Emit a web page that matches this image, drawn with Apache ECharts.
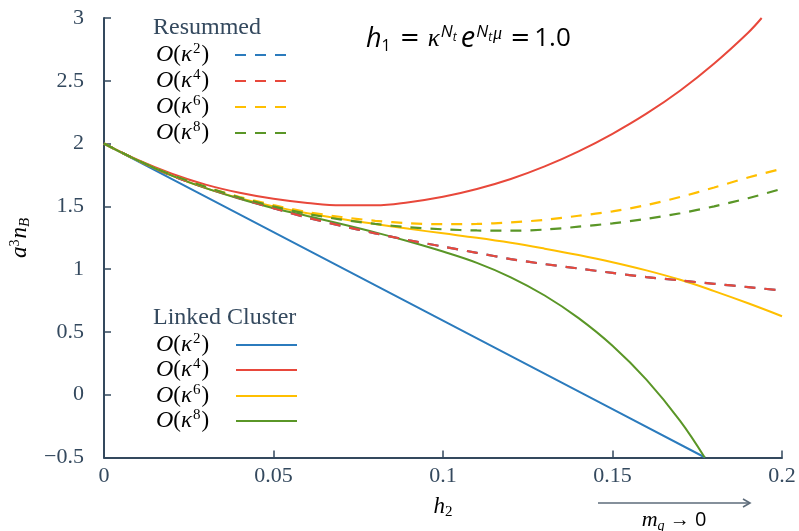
<!DOCTYPE html>
<html><head><meta charset="utf-8">
<script src="https://cdn.jsdelivr.net/npm/echarts@6/dist/echarts.min.js"></script>
<style>html,body{margin:0;padding:0;background:#fff}#c{width:799px;height:531px}</style>
</head><body><div id="c"></div>
<script>
// ---- data ----
const xTickLabels = ['0', '0.05', '0.1', '0.15', '0.2'];
const yTickLabels = ['\u22120.5', '0', '0.5', '1', '1.5', '2', '2.5', '3'];

const h2Grid = [0, 0.01, 0.02, 0.03, 0.04, 0.05, 0.06, 0.07, 0.08, 0.09, 0.10,
                0.11, 0.12, 0.13, 0.14, 0.15, 0.16, 0.17, 0.18, 0.19, 0.20];

// Resummed
const resK2 = [2.0, 1.865, 1.745, 1.65, 1.565, 1.485, 1.41, 1.345, 1.285, 1.23, 1.18,
               1.13, 1.08, 1.04, 1.005, 0.97, 0.937, 0.91, 0.883, 0.857, 0.83];
const resK4 = [2.0, 1.865, 1.745, 1.65, 1.565, 1.485, 1.41, 1.345, 1.285, 1.23, 1.18,
               1.13, 1.08, 1.04, 1.005, 0.97, 0.937, 0.91, 0.883, 0.857, 0.83];
const resK6 = [2.0, 1.865, 1.75, 1.655, 1.575, 1.51, 1.455, 1.415, 1.385, 1.365, 1.358,
               1.36, 1.372, 1.393, 1.425, 1.46, 1.51, 1.575, 1.65, 1.73, 1.80];
const resK8 = [2.0, 1.865, 1.75, 1.655, 1.57, 1.50, 1.44, 1.395, 1.36, 1.333, 1.317,
               1.308, 1.306, 1.315, 1.338, 1.365, 1.40, 1.445, 1.50, 1.565, 1.64];

// Linked cluster
const lcK2X = [0, 0.05, 0.10, 0.15, 0.1773];
const lcK2 = [2.0, 1.295, 0.59, -0.115, -0.5];

const lcK4X = [0, 0.01, 0.02, 0.03, 0.04, 0.05, 0.06, 0.07, 0.08, 0.09, 0.10,
               0.11, 0.12, 0.13, 0.14, 0.15, 0.16, 0.17, 0.18, 0.19, 0.194];
const lcK4 = [2.0, 1.87, 1.76, 1.673, 1.608, 1.56, 1.527, 1.508, 1.508, 1.533, 1.576,
              1.638, 1.718, 1.818, 1.938, 2.078, 2.238, 2.423, 2.638, 2.883, 3.0];

const lcK6 = [2.0, 1.865, 1.745, 1.645, 1.565, 1.50, 1.445, 1.40, 1.36, 1.321, 1.285,
              1.25, 1.21, 1.163, 1.112, 1.055, 0.99, 0.915, 0.825, 0.728, 0.625];

const lcK8X = [0, 0.01, 0.02, 0.03, 0.04, 0.05, 0.06, 0.07, 0.08, 0.09, 0.10,
               0.11, 0.12, 0.13, 0.14, 0.15, 0.16, 0.17, 0.1772];
const lcK8 = [2.0, 1.865, 1.745, 1.645, 1.56, 1.485, 1.423, 1.36, 1.293, 1.22, 1.14,
              1.05, 0.935, 0.79, 0.61, 0.39, 0.12, -0.21, -0.5];

// ---- styling ----
const C_BLUE = '#2b7bbd', C_RED = '#e8483b', C_YEL = '#ffbf00', C_GRN = '#5a9627';
const INK = '#34495e';
const SERIF = '"Liberation Serif", "DejaVu Serif", serif';
const SANS = '"Open Sans", "Noto Sans", sans-serif';

const zip = (xs, ys) => xs.map((x, i) => [x, ys[i]]);

function solid(name, xs, ys, color, smooth) {
  return { name, type: 'line', data: zip(xs, ys), showSymbol: false, symbol: 'none',
    smooth: smooth, lineStyle: { color, width: 2 }, itemStyle: { color }, z: 2 };
}
function dashed(name, xs, ys, color) {
  return { name, type: 'line', data: zip(xs, ys), showSymbol: false, symbol: 'none',
    smooth: 0.3, lineStyle: { color, width: 2.2, type: [11, 9] }, itemStyle: { color }, z: 3 };
}

const oRich = {
  o: { fontFamily: SERIF, fontStyle: 'italic', fontSize: 24, color: INK, lineHeight: 28 },
  p: { fontFamily: SERIF, fontSize: 23, color: INK, lineHeight: 28 },
  k: { fontFamily: SERIF, fontStyle: 'italic', fontSize: 23, color: INK, lineHeight: 28 },
  s: { fontFamily: SERIF, fontSize: 15, color: INK, lineHeight: 28, verticalAlign: 'top', padding: [1, 1, 0, 1] }
};
const orders = ['2', '4', '6', '8'];
function legendItem(y, ord) {
  return { type: 'text', left: 156, top: y - 14, style: {
    text: '{o|O}{p|(}{k|\u03ba}{s|' + ord + '}{p|)}', rich: oRich } };
}
const resColors = [C_BLUE, C_RED, C_YEL, C_GRN];
const resY = [55, 81, 107, 133];
const lcY = [345, 370, 396, 421];

const graphics = [];
graphics.push({ type: 'text', left: 153, top: 16, style: { text: 'Resummed', fontFamily: SERIF, fontSize: 24, fill: INK } });
graphics.push({ type: 'text', left: 153, top: 306, style: { text: 'Linked Cluster', fontFamily: SERIF, fontSize: 24, fill: INK } });
resY.forEach((y, i) => {
  graphics.push(legendItem(y, orders[i]));
  graphics.push({ type: 'line', shape: { x1: 235, y1: y, x2: 290, y2: y },
    style: { stroke: resColors[i], lineWidth: 2.2, lineDash: [11, 9] } });
});
lcY.forEach((y, i) => {
  graphics.push(legendItem(y, orders[i]));
  graphics.push({ type: 'line', shape: { x1: 236, y1: y, x2: 297, y2: y },
    style: { stroke: resColors[i], lineWidth: 2.2 } });
});
// title formula
graphics.push({ type: 'text', left: 366, top: 22, style: {
  text: '{hi|h}{sub|1}{eq|=}{kap|\u03ba}{sup|N}{ss|t}{e|e}{sup|N}{ss|t}{mu|\u03bc}{eq2|=}{t|1.0}',
  rich: {
    hi: { fontFamily: SANS, fontStyle: 'italic', fontSize: 27, color: INK, lineHeight: 34 },
    sub: { fontFamily: SANS, fontSize: 16, color: INK, lineHeight: 34, verticalAlign: 'bottom', padding: [0, 0, 2, 0] },
    eq: { fontFamily: '"DejaVu Sans", sans-serif', fontSize: 24, color: INK, lineHeight: 34, padding: [0, 8, 0, 9] },
    eq2: { fontFamily: '"DejaVu Sans", sans-serif', fontSize: 24, color: INK, lineHeight: 34, padding: [0, 4, 0, 8] },
    t: { fontFamily: SANS, fontSize: 26, color: INK, lineHeight: 34 },
    kap: { fontFamily: SERIF, fontStyle: 'italic', fontSize: 25, color: INK, lineHeight: 34 },
    sup: { fontFamily: SANS, fontStyle: 'italic', fontSize: 17, color: INK, lineHeight: 34, verticalAlign: 'top', padding: [2, 0, 0, 1] },
    ss: { fontFamily: SANS, fontStyle: 'italic', fontSize: 12, color: INK, lineHeight: 34, verticalAlign: 'top', padding: [10, 0, 0, 0] },
    e: { fontFamily: SANS, fontStyle: 'italic', fontSize: 29, color: INK, lineHeight: 34, padding: [0, 0, 0, 4] },
    mu: { fontFamily: SERIF, fontStyle: 'italic', fontSize: 18, color: INK, lineHeight: 34, verticalAlign: 'top', padding: [3, 0, 0, 1] }
  } } });
// y axis name
graphics.push({ type: 'text', x: 20, y: 238, rotation: Math.PI / 2, style: {
  text: '{a|a}{s|3}{n|n}{b|B}', align: 'center', verticalAlign: 'middle',
  rich: {
    a: { fontFamily: SERIF, fontStyle: 'italic', fontSize: 23, color: INK, lineHeight: 28 },
    s: { fontFamily: SERIF, fontSize: 14, color: INK, lineHeight: 28, verticalAlign: 'top', padding: [2, 1, 0, 0] },
    n: { fontFamily: SERIF, fontStyle: 'italic', fontSize: 23, color: INK, lineHeight: 28 },
    b: { fontFamily: SERIF, fontStyle: 'italic', fontSize: 15, color: INK, lineHeight: 28, verticalAlign: 'bottom', padding: [0, 0, 1, 0] }
  } } });
// x axis name
graphics.push({ type: 'text', x: 443, y: 507, style: {
  text: '{h|h}{s|2}', align: 'center', verticalAlign: 'middle',
  rich: {
    h: { fontFamily: SERIF, fontStyle: 'italic', fontSize: 23, color: INK, lineHeight: 28 },
    s: { fontFamily: SERIF, fontSize: 15, color: INK, lineHeight: 28, verticalAlign: 'bottom', padding: [0, 0, 1, 0] }
  } } });
// arrow and m_q -> 0
graphics.push({ type: 'line', shape: { x1: 598, y1: 503, x2: 749, y2: 503 }, style: { stroke: '#5d6b7a', lineWidth: 1.6 } });
graphics.push({ type: 'polyline', shape: { points: [[743, 499], [750, 503], [743, 507]] }, style: { stroke: '#5d6b7a', lineWidth: 1.6, fill: null } });
graphics.push({ type: 'text', x: 674, y: 520, style: {
  text: '{m|m}{q|q}{a| \u2192 0}', align: 'center', verticalAlign: 'middle',
  rich: {
    m: { fontFamily: SERIF, fontStyle: 'italic', fontSize: 22, color: INK, lineHeight: 26 },
    q: { fontFamily: SERIF, fontStyle: 'italic', fontSize: 14, color: INK, lineHeight: 26, verticalAlign: 'bottom', padding: [0, 0, 0, 0] },
    a: { fontFamily: SANS, fontSize: 20, color: INK, lineHeight: 26 }
  } } });

const chart = echarts.init(document.getElementById('c'), null, { renderer: 'canvas' });
chart.setOption({
  animation: false,
  backgroundColor: '#fff',
  grid: { left: 104, right: 17, top: 18, bottom: 73.5 },
  xAxis: {
    type: 'value', min: 0, max: 0.2, interval: 0.05,
    axisLine: { onZero: false, lineStyle: { color: INK, width: 2 } },
    axisTick: { inside: true, length: 7, lineStyle: { color: INK, width: 1.5 } },
    splitLine: { show: false },
    axisLabel: { margin: 8, color: INK, fontFamily: SERIF, fontSize: 22,
      formatter: v => xTickLabels[Math.round(v / 0.05)] }
  },
  yAxis: {
    type: 'value', min: -0.5, max: 3, interval: 0.5,
    axisLine: { show: true, onZero: false, lineStyle: { color: INK, width: 2 } },
    axisTick: { show: true, inside: true, length: 7, lineStyle: { color: INK, width: 1.5 } },
    splitLine: { show: false },
    axisLabel: { margin: 20, color: INK, fontFamily: SERIF, fontSize: 22,
      formatter: v => yTickLabels[Math.round((v + 0.5) / 0.5)] }
  },
  series: [
    solid('LC O(k2)', lcK2X, lcK2, C_BLUE, false),
    solid('LC O(k4)', lcK4X, lcK4, C_RED, 0.4),
    solid('LC O(k6)', h2Grid, lcK6, C_YEL, 0.4),
    solid('LC O(k8)', lcK8X, lcK8, C_GRN, 0.4),
    dashed('Res O(k2)', h2Grid, resK2, C_BLUE),
    dashed('Res O(k4)', h2Grid, resK4, C_RED),
    dashed('Res O(k6)', h2Grid, resK6, C_YEL),
    dashed('Res O(k8)', h2Grid, resK8, C_GRN)
  ],
  graphic: graphics
});
</script>
</body></html>
